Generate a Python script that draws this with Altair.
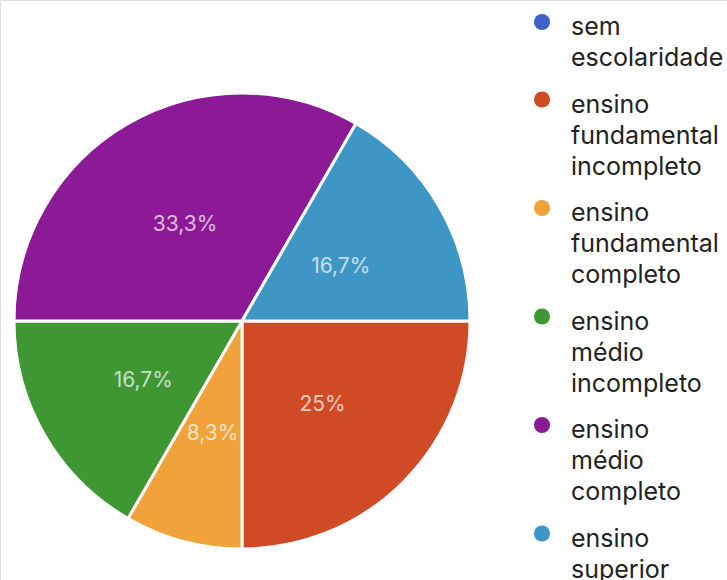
import math
import altair as alt
import pandas as pd

categories = [
    "sem escolaridade",
    "ensino fundamental incompleto",
    "ensino fundamental completo",
    "ensino médio incompleto",
    "ensino médio completo",
    "ensino superior",
]
legend_labels = [
    "sem\nescolaridade",
    "ensino\nfundamental\nincompleto",
    "ensino\nfundamental\ncompleto",
    "ensino\nmédio\nincompleto",
    "ensino\nmédio\ncompleto",
    "ensino\nsuperior",
]
counts = [0, 3, 1, 2, 4, 2]
colors = ["#3a62c8", "#d04a26", "#f1a23a", "#3f9733", "#8c1a96", "#3e96c4"]

total = sum(counts)


def fmt(c):
    if c == 0:
        return ""
    p = round(c / total * 100, 1)
    s = f"{p:.1f}".replace(".", ",")
    if s.endswith(",0"):
        s = s[:-2]
    return s + "%"


# legend position in "line" units: each entry takes its lines plus half a line gap
pos = []
line = 0.0
for lab in legend_labels:
    pos.append(line)
    line += lab.count("\n") + 1 + 0.5

df = pd.DataFrame({
    "idx": list(range(len(categories))),
    "cat": categories,
    "leg": legend_labels,
    "count": counts,
    "pct": [fmt(c) for c in counts],
    "pos": pos,
})

CX, CY, R = 242, 321, 228
LH = 31
theta = alt.Theta("count:Q", stack=True,
                  scale=alt.Scale(range=[math.pi / 2, 5 * math.pi / 2]))
color = alt.Color("cat:N", scale=alt.Scale(domain=categories, range=colors), legend=None)

base = alt.Chart(df)

pie = base.mark_arc(stroke="white", strokeWidth=3).encode(
    theta=theta,
    color=color,
    order=alt.Order("idx:Q"),
    x=alt.value(CX), y=alt.value(CY), radius=alt.value(R),
)

labels = base.mark_text(radius=114, fontSize=21, font="Inter", fill="white",
                        opacity=0.7).encode(
    theta=theta,
    order=alt.Order("idx:Q"),
    text="pct:N",
    x=alt.value(CX), y=alt.value(CY + 3),
)

yscale = alt.Y("pos:Q", scale=alt.Scale(domain=[0, 10], range=[35, 35 + LH * 10]), axis=None)

dots = base.mark_point(filled=True, size=260, opacity=1, yOffset=-13).encode(
    x=alt.value(542), y=yscale, color=color,
)

legtext = base.mark_text(align="left", baseline="alphabetic", lineBreak="\n",
                         lineHeight=LH, fontSize=25, font="Inter",
                         color="#222222").encode(
    x=alt.value(571), y=yscale, text="leg:N",
)

chart = alt.layer(pie, labels, dots, legtext).properties(
    width=727, height=580, padding=0,
    autosize=alt.AutoSizeParams(type="none"),
).configure_view(stroke=None).configure(background="white")

chart.save("out.html", embed_options={"renderer": "svg", "actions": False})
